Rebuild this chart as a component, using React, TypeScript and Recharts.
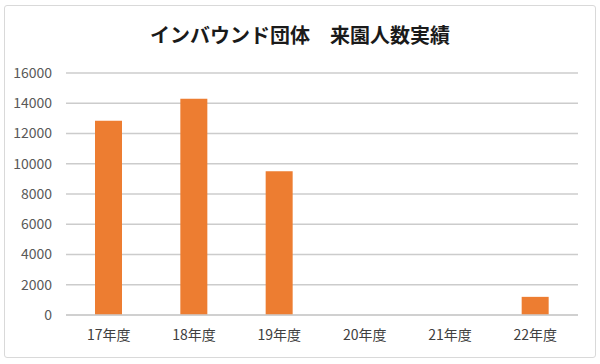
import React from "react";
import { BarChart, Bar, XAxis, YAxis, CartesianGrid } from "recharts";

const years = ["17年度", "18年度", "19年度", "20年度", "21年度", "22年度"];
const visitors = [12850, 14300, 9500, 0, 0, 1200];
const yTicks = [0, 2000, 4000, 6000, 8000, 10000, 12000, 14000, 16000];

const chartData = years.map((year, i) => ({ year, visitors: visitors[i] }));

const FONT = '"Noto Sans CJK JP", "Noto Sans", sans-serif';

export default function App() {
  return (
    <div style={{ position: "absolute", left: 0, top: 0, width: 600, height: 364, background: "#fff", fontFamily: FONT }}>
      <div
        style={{
          position: "absolute",
          left: 4,
          top: 5,
          width: 590,
          height: 351,
          border: "1px solid #d9d9d9",
          borderRadius: 3,
        }}
      />
      <div
        style={{
          position: "absolute",
          left: 0,
          top: 20,
          width: 600,
          textAlign: "center",
          fontSize: 20,
          fontWeight: 700,
          color: "#1a1a1a",
          lineHeight: "30px",
        }}
      >
        インバウンド団体　来園人数実績
      </div>
      <div style={{ position: "absolute", left: 0, top: 0 }}>
        <BarChart width={600} height={364} data={chartData} margin={{ top: 73, right: 22, bottom: 0, left: 0 }}>
          <CartesianGrid vertical={false} stroke="#cccccc" strokeWidth={1.5} />
          <XAxis
            dataKey="year"
            height={49}
            tickLine={false}
            tickSize={0}
            tickMargin={15}
            axisLine={{ stroke: "#cccccc", strokeWidth: 1.5 }}
            tick={{ fontSize: 14, fill: "#404040", fontFamily: FONT }}
          />
          <YAxis
            width={66}
            domain={[0, 16000]}
            ticks={yTicks}
            interval={0}
            tickLine={false}
            tickSize={0}
            tickMargin={14}
            axisLine={false}
            tick={{ fontSize: 14, fill: "#595959", fontFamily: FONT }}
          />
          <Bar dataKey="visitors" fill="#ED7D31" barSize={27} isAnimationActive={false} />
        </BarChart>
      </div>
    </div>
  );
}
